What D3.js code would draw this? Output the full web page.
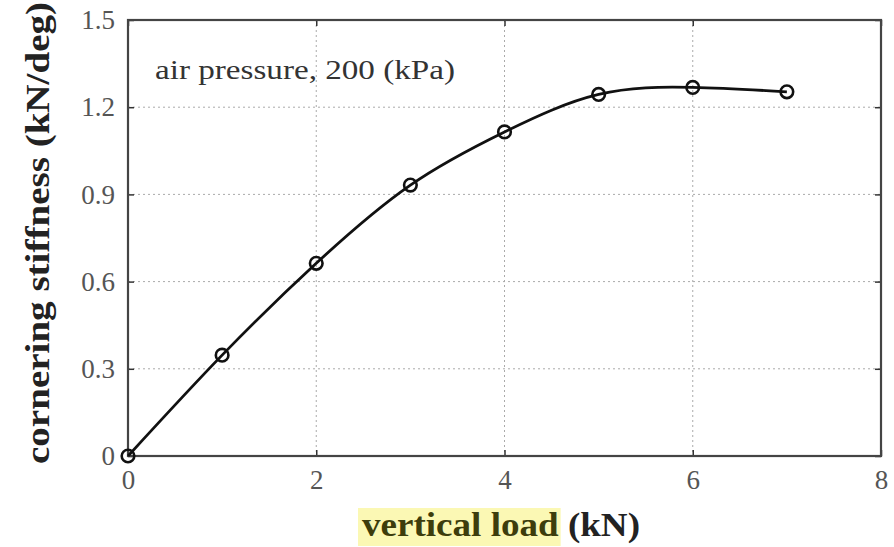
<!DOCTYPE html>
<html><head><meta charset="utf-8">
<script src="https://cdn.jsdelivr.net/npm/d3@7/dist/d3.min.js"></script>
<style>body{margin:0;background:#fff}svg{display:block}</style>
</head><body>
<script>
const loads = [0, 1, 2, 3, 4, 5, 6, 7];
const stiffness = [0, 0.347, 0.663, 0.932, 1.115, 1.244, 1.268, 1.253];
const xTicks = [0, 2, 4, 6, 8];
const yTicks = [0, 0.3, 0.6, 0.9, 1.2, 1.5];
const yTickLabels = ["0", "0.3", "0.6", "0.9", "1.2", "1.5"];
const annotation = "air pressure, 200 (kPa)";
const xLabelHi = "vertical load";
const xLabelRest = " (kN)";
const yLabel = "cornering stiffness (kN/deg)";

const W = 894, H = 547;
const m = {l: 128, r: 881, t: 20, b: 456};
const svg = d3.select("body").append("svg").attr("width", W).attr("height", H);
const x = d3.scaleLinear().domain([0, 8]).range([m.l, m.r]);
const y = d3.scaleLinear().domain([0, 1.5]).range([m.b, m.t]);
const serif = "'Liberation Serif','Times New Roman',serif";

const hiLayer = svg.append("g");

// grid
const g = svg.append("g");
g.selectAll(".gx").data(xTicks.slice(1, -1)).enter().append("line")
  .attr("x1", d => x(d)).attr("x2", d => x(d)).attr("y1", m.t).attr("y2", m.b)
  .attr("stroke", "#aaa").attr("stroke-width", 1).attr("stroke-dasharray", "2,3");
g.selectAll(".gy").data(yTicks.slice(1, -1)).enter().append("line")
  .attr("y1", d => y(d)).attr("y2", d => y(d)).attr("x1", m.l).attr("x2", m.r)
  .attr("stroke", "#aaa").attr("stroke-width", 1).attr("stroke-dasharray", "2,3");

// axes
const xAxis = d3.axisBottom(x).tickValues(xTicks).tickSize(-6).tickPadding(14).tickFormat(d3.format("d"));
const yAxis = d3.axisLeft(y).tickValues(yTicks).tickSize(-6).tickPadding(13).tickFormat((d, i) => yTickLabels[i]);
const xa = svg.append("g").attr("transform", `translate(0,${m.b})`).call(xAxis);
const ya = svg.append("g").attr("transform", `translate(${m.l},0)`).call(yAxis);
const xTop = svg.append("g").attr("transform", `translate(0,${m.t})`).call(d3.axisTop(x).tickValues(xTicks).tickSize(-6).tickFormat(""));
const yRight = svg.append("g").attr("transform", `translate(${m.r},0)`).call(d3.axisRight(y).tickValues(yTicks).tickSize(-6).tickFormat(""));
[xa, ya, xTop, yRight].forEach(a => {
  a.select(".domain").remove();
  a.selectAll(".tick line").attr("stroke", "#333").attr("stroke-width", 1.5);
  a.selectAll("text").attr("font-family", serif).attr("font-size", 27).attr("fill", "#555");
});
xa.selectAll("text").attr("dy", "0.72em");

svg.append("rect").attr("x", m.l).attr("y", m.t).attr("width", m.r - m.l).attr("height", m.b - m.t)
  .attr("fill", "none").attr("stroke", "#444").attr("stroke-width", 2.2);

// line
const pts = loads.map((d, i) => [d, stiffness[i]]);
svg.append("path").datum(pts)
  .attr("d", d3.line().x(d => x(d[0])).y(d => y(d[1])).curve(d3.curveNatural))
  .attr("fill", "none").attr("stroke", "#111").attr("stroke-width", 2.8);
svg.selectAll(".pt").data(pts).enter().append("circle")
  .attr("cx", d => x(d[0])).attr("cy", d => y(d[1])).attr("r", 6.3)
  .attr("fill", "none").attr("stroke", "#111").attr("stroke-width", 2.6);

// annotation
svg.append("text").attr("x", 155).attr("y", 79).text(annotation)
  .attr("font-family", serif).attr("font-size", 27).attr("fill", "#333")
  .attr("textLength", 300).attr("lengthAdjust", "spacingAndGlyphs");

// x label
const xl = svg.append("text").attr("x", 362).attr("y", 536)
  .attr("font-family", serif).attr("font-size", 33).attr("font-weight", "bold")
  .attr("textLength", 278).attr("lengthAdjust", "spacingAndGlyphs");
const hiSpan = xl.append("tspan").text(xLabelHi).attr("fill", "#3d3d0c");
xl.append("tspan").text(xLabelRest).attr("fill", "#222");
const bb = hiSpan.node().getBBox();
hiLayer.append("rect").attr("x", bb.x - 4).attr("y", bb.y + 1).attr("width", bb.width + 6).attr("height", bb.height + 2)
  .attr("fill", "#fbf8b4");

// y label
svg.append("text").attr("transform", `translate(49,${233}) rotate(-90)`)
  .attr("text-anchor", "middle").text(yLabel)
  .attr("font-family", serif).attr("font-size", 33).attr("font-weight", "bold").attr("fill", "#222")
  .attr("textLength", 462).attr("lengthAdjust", "spacingAndGlyphs");
</script>
</body></html>
